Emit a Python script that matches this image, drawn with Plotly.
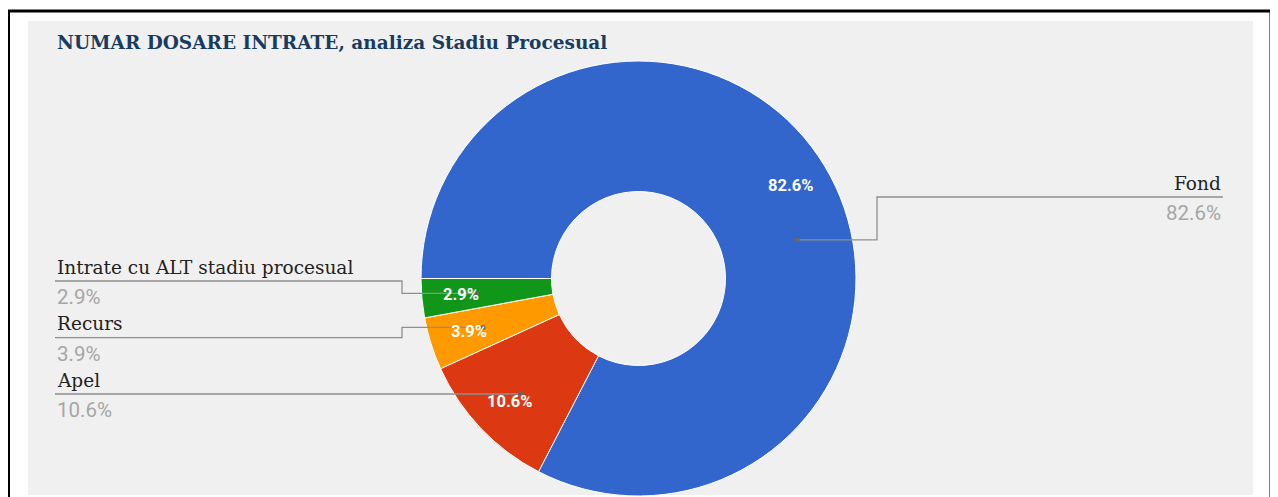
import math
import plotly.graph_objects as go

# ---- data ----
categories = ["Fond", "Apel", "Recurs", "Intrate cu ALT stadiu procesual"]
values = [82.6, 10.6, 3.9, 2.9]
colors = ["#3366cc", "#dc3912", "#ff9900", "#109618"]
title_text = "NUMAR DOSARE INTRATE, analiza Stadiu Procesual"

# ---- geometry / style ----
OFF = 8                      # page body margin
W, H = 1278 - OFF, 497 - OFF
CX, CY, R = 638.5, 278.5, 217.5
HOLE = 0.4
START = 270.0                # clockwise from 12 o'clock
R_LABEL, R_DOT = 178, 163
SERIF = "DejaVu Serif"
SANS = "Roboto"


def px(x):
    return (x - OFF) / W


def py(y):
    return 1 - (y - OFF) / H


total = sum(values)
mids, acc = [], 0.0
for v in values:
    mids.append(START + (acc + v / 2) / total * 360)
    acc += v


def polar(r, a):
    rad = math.radians(a)
    return CX + r * math.sin(rad), CY - r * math.cos(rad)


fig = go.Figure()
fig.add_trace(go.Pie(
    labels=categories, values=values, sort=False, direction="clockwise",
    rotation=START - 360, hole=HOLE, textinfo="none", hoverinfo="label+percent",
    marker=dict(colors=colors, line=dict(color="white", width=1)),
    domain=dict(x=[px(CX - R), px(CX + R)], y=[max(0, py(CY + R)), py(CY - R)]),
    showlegend=False,
))

shapes = [
    dict(type="rect", xref="paper", yref="paper", x0=px(28), x1=px(1253), y0=py(495), y1=py(21),
         fillcolor="#f0f0f0", line=dict(width=0), layer="below"),
    dict(type="rect", xref="paper", yref="paper", x0=px(8.5), x1=px(1271), y0=py(530), y1=py(11),
         fillcolor="rgba(0,0,0,0)", line=dict(color="black", width=3), layer="above"),
]
annotations = [
    dict(text="<b>" + title_text + "</b>", x=px(55), y=py(42), xref="paper", yref="paper",
         xanchor="left", yanchor="middle", showarrow=False,
         font=dict(family=SERIF, size=18.5, color="#173c5f")),
]

# inside percentage labels
for v, m in zip(values, mids):
    x, y = polar(R_LABEL, m)
    annotations.append(dict(text="<b>%.1f%%</b>" % (v / total * 100), x=px(x), y=py(y),
                            xref="paper", yref="paper", showarrow=False,
                            xanchor="center", yanchor="middle",
                            font=dict(family=SANS, size=16.5, color="white")))

# outside labels with leader lines
dot_shift = {"Fond": 17.6}
side_rows = {  # line y, elbow x, text edge x, side
    "Fond": (197, 877, 1223, "right"),
    "Intrate cu ALT stadiu procesual": (281, 402, 55, "left"),
    "Recurs": (337.7, 402, 55, "left"),
    "Apel": (394, 402, 55, "left"),
}
LINE_C = "#8f8f8f"
for cat, v, m in zip(categories, values, mids):
    ly, ex, tx, side = side_rows[cat]
    dx, dy = polar(R_DOT, m + dot_shift.get(cat, 0))
    if abs(dy - ly) < 6:
        dy = ly
        path = "M %f,%f L %f,%f" % (px(tx), py(ly), px(dx), py(ly))
    else:
        path = "M %f,%f L %f,%f L %f,%f L %f,%f" % (px(tx), py(ly), px(ex), py(ly),
                                                   px(ex), py(dy), px(dx), py(dy))
    shapes.append(dict(type="path", xref="paper", yref="paper", path=path,
                       line=dict(color=LINE_C, width=1.3)))
    shapes.append(dict(type="circle", xref="paper", yref="paper",
                       x0=px(dx - 2.5), x1=px(dx + 2.5), y0=py(dy + 2.5), y1=py(dy - 2.5),
                       fillcolor="#666666", line=dict(width=0)))
    anc = "left" if side == "left" else "right"
    annotations.append(dict(text=cat, x=px(tx), y=py(ly - 14), xref="paper", yref="paper",
                            xanchor=anc, yanchor="middle", showarrow=False,
                            font=dict(family=SERIF, size=18.5, color="#222222")))
    annotations.append(dict(text="%.1f%%" % (v / total * 100), x=px(tx), y=py(ly + 16),
                            xref="paper", yref="paper", xanchor=anc, yanchor="middle",
                            showarrow=False, font=dict(family=SANS, size=20.5, color="#a6a6a6")))

fig.update_layout(
    width=W, height=H, margin=dict(l=0, r=0, t=0, b=0),
    paper_bgcolor="white", plot_bgcolor="white",
    shapes=shapes, annotations=annotations,
)
fig.write_html("out.html")
